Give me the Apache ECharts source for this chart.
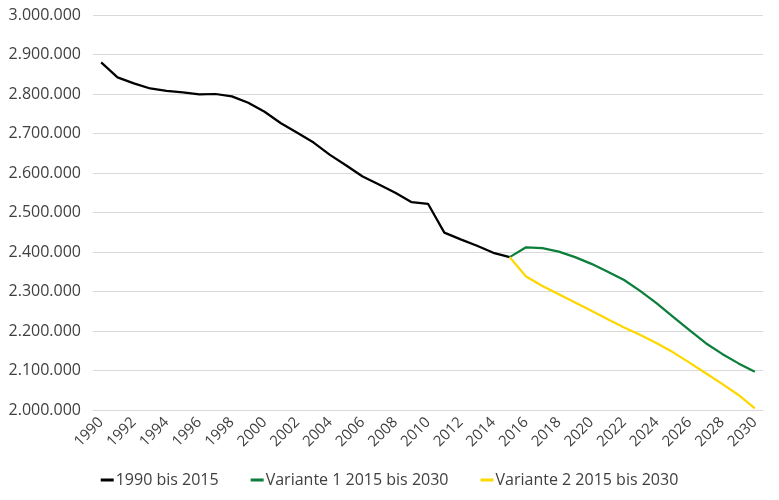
<!DOCTYPE html>
<html>
<head>
<meta charset="utf-8">
<script src="https://cdn.jsdelivr.net/npm/echarts@6/dist/echarts.min.js"></script>
<style>html,body{margin:0;padding:0;background:#fff;}#c{width:779px;height:500px;}</style>
</head>
<body>
<div id="c"></div>
<script>
var years = [];
for (var y = 1990; y <= 2030; y++) years.push(String(y));

var hist = [2880000,2842000,2827000,2814000,2808000,2804000,2799000,2800000,2794000,2778000,
            2755000,2726000,2702000,2677000,2646000,2619000,2591000,2571000,2550000,2526000,
            2522000,2449000,2432000,2416000,2398000,2387000];
var var1 = [2387000,2412000,2410000,2401000,2387000,2370000,2350000,2329000,2301000,2270000,
            2236000,2202000,2169000,2142000,2118000,2097000];
var var2 = [2387000,2338000,2314000,2293000,2272000,2251000,2230000,2209000,2190000,2169000,
            2146000,2120000,2093000,2066000,2038000,2004000];
var names = ['1990 bis 2015','Variante 1 2015 bis 2030','Variante 2 2015 bis 2030'];

function pad(arr, start) {
  var out = [];
  for (var i = 0; i < years.length; i++) {
    var j = i - start;
    out.push(j >= 0 && j < arr.length ? arr[j] : null);
  }
  return out;
}
function fmt(v) {
  return String(Math.round(v)).replace(/\B(?=(\d{3})+(?!\d))/g, '.');
}

var font = 'Open Sans';
var chart = echarts.init(document.getElementById('c'));
chart.setOption({
  animation: false,
  grid: {left: 93, right: 16, top: 15, bottom: 90, containLabel: false},
  legend: {
    bottom: 7, left: 'center',
    itemWidth: 13, itemHeight: 3, itemGap: 32,
    icon: 'rect',
    textStyle: {fontFamily: font, fontSize: 16, color: '#404040', padding: [0, 0, 0, -3]},
    data: names
  },
  xAxis: {
    type: 'category', data: years, boundaryGap: true,
    axisLine: {lineStyle: {color: '#d9d9d9'}},
    axisTick: {show: false},
    axisLabel: {interval: 1, rotate: 45, fontFamily: font, fontSize: 15, color: '#404040', margin: 10}
  },
  yAxis: {
    type: 'value', min: 2000000, max: 3000000, interval: 100000,
    axisLine: {show: false}, axisTick: {show: false},
    splitLine: {lineStyle: {color: '#d9d9d9'}},
    axisLabel: {formatter: fmt, fontFamily: font, fontSize: 16, color: '#404040', margin: 12}
  },
  series: [
    {name: names[0], type: 'line', data: pad(hist, 0), showSymbol: false, lineStyle: {color: '#000000', width: 2.25}, itemStyle: {color: '#000000'}},
    {name: names[1], type: 'line', data: pad(var1, 25), showSymbol: false, lineStyle: {color: '#0b7f3a', width: 2.25}, itemStyle: {color: '#0b7f3a'}},
    {name: names[2], type: 'line', data: pad(var2, 25), showSymbol: false, lineStyle: {color: '#ffd700', width: 2.25}, itemStyle: {color: '#ffd700'}}
  ]
});
</script>
</body>
</html>
